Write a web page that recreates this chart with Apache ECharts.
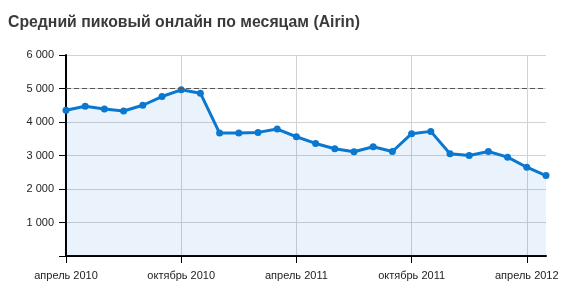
<!DOCTYPE html>
<html>
<head>
<meta charset="utf-8">
<script src="https://cdn.jsdelivr.net/npm/echarts@6/dist/echarts.min.js"></script>
<style>html,body{margin:0;padding:0;background:#fff;}#c{width:570px;height:303px;}</style>
</head>
<body>
<div id="c"></div>
<script>
var titleText = 'Средний пиковый онлайн по месяцам (Airin)';
var categories = [
  'апрель 2010','май 2010','июнь 2010','июль 2010','август 2010','сентябрь 2010',
  'октябрь 2010','ноябрь 2010','декабрь 2010','январь 2011','февраль 2011','март 2011',
  'апрель 2011','май 2011','июнь 2011','июль 2011','август 2011','сентябрь 2011',
  'октябрь 2011','ноябрь 2011','декабрь 2011','январь 2012','февраль 2012','март 2012',
  'апрель 2012','май 2012'
];
var values = [4350,4470,4390,4330,4500,4760,4960,4860,3670,3670,3690,3790,
              3560,3360,3200,3110,3260,3120,3650,3720,3050,3000,3120,2950,2650,2400];
var yTicks = [0,1000,2000,3000,4000,5000,6000];
var referenceLine = 5000;

var chart = echarts.init(document.getElementById('c'), null, {renderer:'canvas'});
chart.setOption({
  animation:false,
  backgroundColor:'#fff',
  title:{text:titleText,left:3,top:10,textStyle:{fontFamily:'Arial, Liberation Sans',fontSize:15.8,fontWeight:'bold',color:'#3a3a3a'}},
  grid:{left:66,right:24,top:55,bottom:47,containLabel:false},
  xAxis:{
    type:'category',data:categories,boundaryGap:false,
    axisLine:{lineStyle:{color:'#000',width:2}},
    axisTick:{interval:5,length:7,lineStyle:{color:'#000',width:1}},
    axisLabel:{interval:5,margin:14,fontFamily:'Arial, Liberation Sans',fontSize:11,color:'#222'},
    splitLine:{show:true,interval:5,lineStyle:{color:'#d2d2d2',width:1}}
  },
  yAxis:{
    type:'value',min:yTicks[0],max:yTicks[yTicks.length-1],interval:1000,
    axisLine:{show:true,lineStyle:{color:'#000',width:2}},
    axisTick:{show:true,length:7,lineStyle:{color:'#000',width:1}},
    axisLabel:{margin:12,fontFamily:'Arial, Liberation Sans',fontSize:11,color:'#222',
      formatter:function(v){ if(v===0) return ''; return String(v).replace(/\B(?=(\d{3})+(?!\d))/g,' '); }},
    splitLine:{show:true,lineStyle:{color:'#d2d2d2',width:1}}
  },
  series:[{
    type:'line',data:values,
    symbol:'circle',symbolSize:7,showAllSymbol:true,
    lineStyle:{color:'#0a78d0',width:3},
    itemStyle:{color:'#0a78d0'},
    areaStyle:{color:'rgba(10,120,208,0.12)'},
    markLine:{silent:true,symbol:['none','none'],label:{show:false},
      lineStyle:{color:'#555',type:[5,3],width:1},
      data:[{yAxis:referenceLine}]}
  }]
});
</script>
</body>
</html>
